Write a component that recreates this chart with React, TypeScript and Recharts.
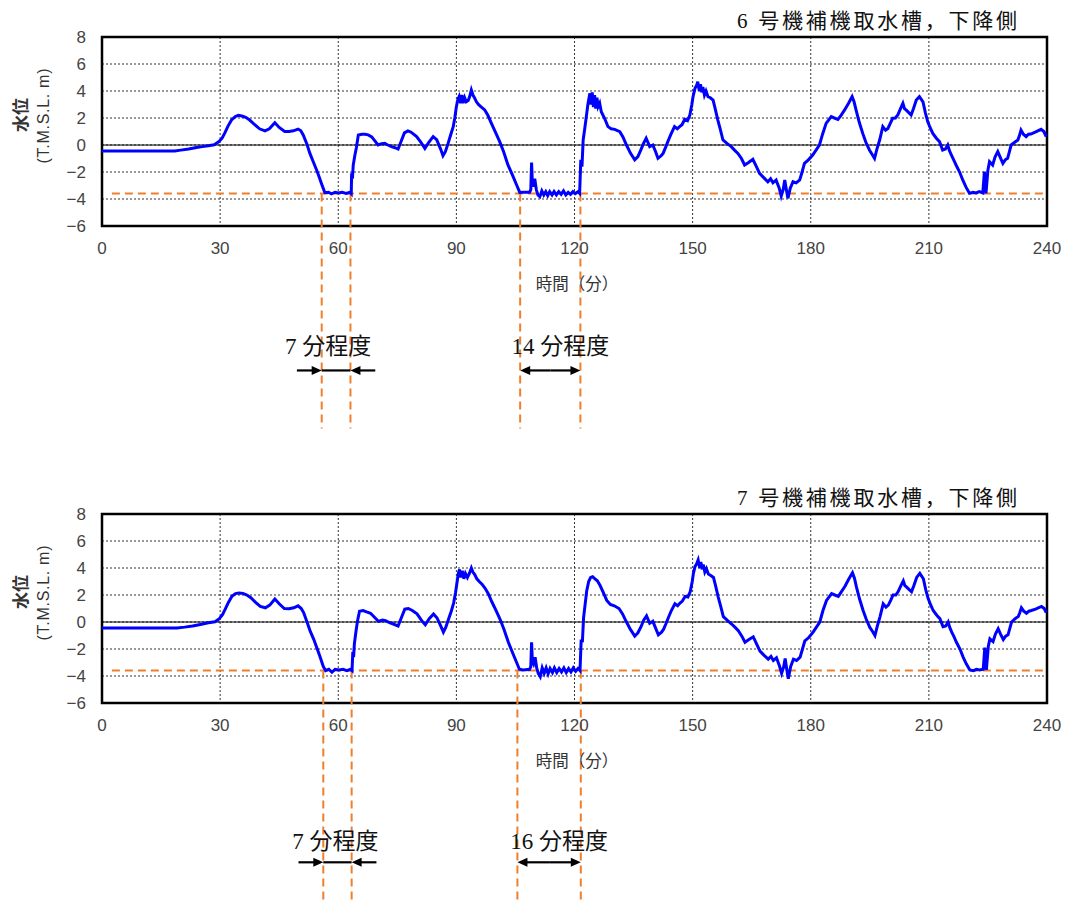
import {
  CartesianGrid,
  Line,
  LineChart,
  ReferenceArea,
  ReferenceDot,
  ReferenceLine,
  XAxis,
  YAxis,
} from "recharts"

// 時間(分) と 水位(T.M.S.L. m)
const timeTicks = [0, 30, 60, 90, 120, 150, 180, 210, 240]
const levelTicks = [-6, -4, -2, 0, 2, 4, 6, 8]

const thresholdLevel = -3.6
const thresholdFrom = 2.5

const unit6Trace: [number, number][] = [
  [0, -0.45], [10, -0.45], [18.5, -0.44], [20, -0.38], [22, -0.3], [24, -0.18], [25.5, -0.12], [27, -0.05],
  [28.5, 0.02], [29.7, 0.25], [30.5, 0.5], [31.2, 0.9], [32, 1.4], [32.9, 1.85], [33.8, 2.1], [34.6, 2.2],
  [35.5, 2.15], [36.5, 2.05], [37.5, 1.85], [38.8, 1.5], [40, 1.2], [41.4, 1.05], [42.5, 1.2], [43.9, 1.65],
  [45, 1.3], [46.4, 1.0], [47.5, 1.0], [48.6, 1.05], [49.8, 1.18], [50.5, 1.05], [51.1, 0.74], [52, 0.1],
  [52.8, -0.62], [53.6, -1.2], [54.5, -1.85], [55.2, -2.4], [55.8, -2.9], [56.6, -3.53], [57.5, -3.5],
  [58.3, -3.62], [59.2, -3.5], [60, -3.55], [61, -3.5], [62, -3.58], [63, -3.5], [63.3, -3.6], [63.4, -2.1],
  [63.6, -2.5], [63.8, -1.5], [64.2, -0.8], [64.6, -0.2], [65.1, 0.74], [66, 0.8], [66.8, 0.79], [67.6, 0.75],
  [68.5, 0.6], [69.3, 0.3], [70.1, 0.0], [71, 0.1], [71.8, 0.12], [72.6, 0.0], [73.5, -0.12], [74.4, -0.2],
  [75.2, -0.3], [76, 0.3], [76.8, 0.9], [77.7, 1.05], [78.5, 0.95], [79.9, 0.62], [81, 0.2], [82, -0.25],
  [83, 0.2], [84.1, 0.62], [85, 0.4], [86, -0.3], [86.6, -0.8], [87.2, -0.5], [87.9, 0.12], [88.5, 0.7],
  [89.2, 1.36], [89.6, 2.0], [90, 2.84], [90.4, 3.4], [90.7, 3.6], [91.1, 3.1], [91.4, 3.7], [91.7, 3.1],
  [92.1, 3.5], [92.5, 3.2], [93, 3.3], [93.4, 3.6], [93.8, 4.07], [94.2, 3.7], [94.6, 3.5], [95.1, 3.2],
  [95.6, 3.0], [96.2, 2.85], [97.2, 2.6], [98, 2.2], [98.9, 1.6], [100, 0.9], [101, 0.25], [102, -0.5],
  [103.1, -1.48], [104.2, -2.2], [105.3, -2.96], [106.1, -3.51], [107, -3.5], [108.6, -3.5], [108.9, -3.3],
  [109.1, -1.3], [109.3, -2.8], [109.5, -3.09], [109.9, -2.5], [110.3, -3.3], [110.7, -3.7], [111.2, -3.83],
  [111.7, -3.4], [112.2, -3.7], [112.7, -3.45], [113.2, -3.75], [113.7, -3.45], [114.3, -3.7], [114.8, -3.45],
  [115.4, -3.7], [116, -3.45], [116.6, -3.65], [117.2, -3.4], [117.8, -3.7], [118.4, -3.5], [119, -3.65],
  [119.6, -3.45], [120.2, -3.6], [120.9, -3.46], [121.3, -3.58], [121.6, -1.1], [121.9, -1.6], [122.2, 0.37],
  [122.6, 1.2], [123, 2.1], [123.4, 3.0], [123.9, 3.83], [124.2, 3.0], [124.5, 3.9], [124.8, 2.8], [125.1, 3.7],
  [125.4, 2.7], [125.7, 3.5], [126, 2.84], [126.4, 3.1], [126.8, 2.47], [127.6, 2.0], [128.5, 1.36], [129.3, 1.2],
  [130.2, 1.16], [131.5, 0.99], [132.3, 0.6], [133.2, 0.0], [134.2, -0.6], [135.3, -1.1], [136.1, -0.86],
  [136.8, -0.4], [137.5, 0.1], [138.2, 0.5], [139.1, -0.12], [139.9, 0.0], [140.6, -0.5], [141.2, -0.99],
  [142, -0.8], [142.5, -0.62], [143.1, -0.2], [143.7, 0.25], [144.5, 0.8], [145.4, 1.36], [146.1, 1.2],
  [146.7, 1.36], [147.3, 1.5], [148, 1.9], [148.7, 1.8], [149.3, 2.22], [149.8, 3.0], [150.1, 3.58], [150.6, 4.2],
  [151, 4.4], [151.3, 4.69], [151.7, 4.0], [152, 4.5], [152.3, 3.9], [152.6, 4.3], [153, 3.7], [153.4, 4.0],
  [153.9, 3.58], [154.5, 3.5], [155.2, 3.33], [155.8, 2.6], [156.4, 1.85], [157, 1.2], [157.7, 0.37], [158.8, 0.1],
  [159.8, -0.12], [160.7, -0.4], [161.5, -0.62], [162.4, -1.0], [163.2, -1.48], [164.2, -1.3], [165.3, -1.06],
  [166.2, -1.6], [167, -2.1], [168, -2.4], [169.1, -2.72], [169.8, -2.5], [170.4, -2.8], [171.2, -2.6],
  [172, -3.2], [172.5, -3.78], [173, -3.3], [173.4, -2.59], [173.8, -3.3], [174.2, -3.95], [174.8, -3.2],
  [175.5, -2.72], [176.3, -2.8], [177.2, -2.59], [177.8, -2.0], [178.4, -1.36], [179.4, -1.1], [180.5, -0.74],
  [181.3, -0.4], [182.2, 0.0], [183, 0.8], [183.9, 1.6], [185.2, 2.1], [186, 2.0], [186.9, 1.9], [187.7, 2.2],
  [188.6, 2.6], [189.6, 3.1], [190.5, 3.58], [191, 3.2], [191.5, 2.6], [192.3, 1.7], [193.2, 0.86], [194, 0.2],
  [194.9, -0.37], [195.6, -0.7], [196.2, -0.99], [196.8, -0.3], [197.5, 0.37], [198.3, 1.36], [199, 1.1],
  [199.6, 1.23], [200.2, 1.6], [200.8, 1.98], [201.5, 2.0], [202.1, 2.22], [202.8, 2.7], [203.4, 3.09],
  [203.8, 2.7], [204.2, 2.6], [204.9, 2.4], [205.5, 2.22], [206.1, 2.7], [206.8, 3.33], [207.6, 3.58],
  [208.5, 3.2], [209.1, 2.4], [209.7, 1.73], [210.3, 1.3], [211, 0.86], [211.9, 0.5], [212.7, 0.25],
  [213.5, -0.37], [214.2, -0.3], [214.8, 0.0], [215.2, -0.4], [215.7, -0.74], [216.3, -1.1], [216.9, -1.48],
  [217.8, -2.0], [218.6, -2.59], [219.4, -3.1], [220.3, -3.58], [221.2, -3.5], [222, -3.55], [222.8, -3.45],
  [223.7, -3.55], [224.1, -1.98], [224.5, -3.58], [225, -1.85], [225.4, -1.23], [226.2, -1.48], [226.8, -0.9],
  [227.5, -0.49], [228.1, -0.9], [228.8, -1.36], [229.4, -1.1], [230, -0.99], [230.9, 0.0], [231.8, 0.2],
  [232.6, 0.37], [233, 0.7], [233.4, 1.11], [234, 0.8], [234.7, 0.62], [235.3, 0.8], [235.9, 0.81], [237, 0.95],
  [238.5, 1.16], [239.2, 1.0], [239.8, 0.62],
]

const unit7Trace: [number, number][] = [
  [0, -0.45], [10, -0.45], [19, -0.44], [21, -0.38], [23, -0.3], [25, -0.18], [27, -0.06], [28.7, 0.02],
  [29.8, 0.25], [30.6, 0.55], [31.3, 0.95], [32.1, 1.45], [33, 1.9], [33.9, 2.1], [34.8, 2.15], [35.8, 2.12],
  [36.8, 2.0], [37.8, 1.8], [39, 1.45], [40.2, 1.15], [41.5, 1.05], [42.6, 1.25], [43.9, 1.7], [45, 1.35],
  [46.3, 1.0], [47.5, 0.98], [48.7, 1.05], [49.8, 1.2], [50.6, 1.0], [51.2, 0.7], [52, 0.05], [52.9, -0.7],
  [53.8, -1.3], [54.6, -1.95], [55.4, -2.6], [56.2, -3.3], [56.8, -3.6], [57.6, -3.5], [58.4, -3.72],
  [59.2, -3.5], [60.2, -3.55], [61.2, -3.5], [62.2, -3.6], [63.1, -3.5], [63.5, -3.6], [63.7, -2.2], [63.9, -2.6],
  [64.1, -1.6], [64.5, -0.7], [64.9, 0.1], [65.4, 0.8], [66.3, 0.85], [67.2, 0.75], [68.2, 0.65], [69.2, 0.35],
  [70.2, 0.05], [71.2, 0.15], [72, 0.1], [73, -0.05], [74, -0.15], [75.2, -0.3], [76, 0.3], [76.9, 0.95],
  [77.8, 1.0], [78.8, 0.85], [80, 0.6], [81.2, 0.1], [82.1, -0.2], [83.1, 0.25], [84.2, 0.6], [85.1, 0.3],
  [86.1, -0.35], [86.7, -0.75], [87.3, -0.4], [88, 0.2], [88.7, 0.8], [89.3, 1.4], [89.8, 2.2], [90.2, 3.0],
  [90.5, 3.6], [90.8, 3.9], [91.1, 3.3], [91.5, 3.8], [91.9, 3.2], [92.3, 3.6], [92.8, 3.3], [93.3, 3.6],
  [93.8, 4.0], [94.2, 3.7], [94.7, 3.5], [95.2, 3.2], [95.8, 3.0], [96.5, 2.8], [97.3, 2.5], [98.1, 2.1],
  [99, 1.5], [100, 0.9], [101.1, 0.2], [102.1, -0.55], [103.2, -1.5], [104.3, -2.3], [105.3, -3.0], [106, -3.5],
  [107, -3.55], [108.6, -3.5], [108.9, -3.3], [109.1, -1.5], [109.3, -2.9], [109.6, -3.1], [110, -2.6],
  [110.4, -3.4], [110.8, -3.8], [111.3, -4.05], [111.8, -3.4], [112.3, -3.8], [112.8, -3.4], [113.3, -3.85],
  [113.8, -3.45], [114.4, -3.75], [114.9, -3.4], [115.5, -3.75], [116.1, -3.45], [116.7, -3.7], [117.3, -3.4],
  [117.9, -3.75], [118.5, -3.45], [119.1, -3.7], [119.7, -3.4], [120.3, -3.65], [120.9, -3.45], [121.4, -3.6],
  [121.7, -1.3], [122, -1.5], [122.3, 0.3], [122.7, 1.3], [123.1, 2.3], [123.6, 3.0], [124.1, 3.3], [124.6, 3.35],
  [125.2, 3.2], [125.8, 3.05], [126.5, 2.7], [127.3, 2.2], [128.2, 1.6], [129.1, 1.3], [130.1, 1.2], [131.3, 1.0],
  [132.2, 0.6], [133.1, 0.05], [134.2, -0.55], [135.3, -1.05], [136.1, -0.8], [136.9, -0.35], [137.6, 0.15],
  [138.3, 0.45], [139.1, -0.1], [139.9, 0.05], [140.6, -0.45], [141.3, -0.95], [142.1, -0.75], [142.6, -0.55],
  [143.2, -0.15], [143.8, 0.3], [144.6, 0.85], [145.5, 1.35], [146.2, 1.2], [146.8, 1.4], [147.4, 1.55],
  [148.1, 1.9], [148.8, 1.85], [149.4, 2.25], [149.9, 3.0], [150.2, 3.6], [150.6, 4.1], [151, 4.3], [151.4, 4.6],
  [151.8, 4.0], [152.1, 4.45], [152.4, 3.9], [152.7, 4.25], [153.1, 3.7], [153.5, 3.95], [154, 3.55],
  [154.6, 3.45], [155.3, 3.3], [155.9, 2.6], [156.5, 1.85], [157.1, 1.2], [157.8, 0.4], [158.9, 0.1],
  [159.9, -0.15], [160.8, -0.4], [161.6, -0.65], [162.5, -1.05], [163.3, -1.5], [164.3, -1.3], [165.4, -1.1],
  [166.3, -1.65], [167.1, -2.15], [168.1, -2.45], [169.2, -2.75], [169.9, -2.55], [170.5, -2.85], [171.3, -2.65],
  [172.1, -3.3], [172.6, -3.8], [173.1, -3.35], [173.5, -2.7], [173.9, -3.5], [174.3, -4.2], [174.9, -3.3],
  [175.6, -2.75], [176.4, -2.85], [177.3, -2.6], [177.9, -2.0], [178.5, -1.4], [179.5, -1.15], [180.6, -0.75],
  [181.4, -0.4], [182.3, 0.0], [183.1, 0.85], [184, 1.6], [185.3, 2.1], [186.1, 2.0], [187, 1.9], [187.8, 2.25],
  [188.7, 2.65], [189.7, 3.2], [190.6, 3.65], [191.1, 3.25], [191.6, 2.6], [192.4, 1.7], [193.3, 0.85],
  [194.1, 0.2], [195, -0.4], [195.7, -0.7], [196.3, -1.0], [196.9, -0.3], [197.6, 0.4], [198.4, 1.35],
  [199.1, 1.1], [199.7, 1.25], [200.3, 1.6], [200.9, 2.0], [201.6, 2.0], [202.2, 2.25], [202.9, 2.7],
  [203.5, 3.05], [203.9, 2.7], [204.3, 2.6], [205, 2.4], [205.6, 2.25], [206.2, 2.7], [206.9, 3.3], [207.7, 3.6],
  [208.6, 3.2], [209.2, 2.4], [209.8, 1.75], [210.4, 1.3], [211.1, 0.85], [212, 0.5], [212.8, 0.25],
  [213.6, -0.35], [214.3, -0.3], [214.9, 0.0], [215.3, -0.4], [215.8, -0.75], [216.4, -1.1], [217, -1.5],
  [217.9, -2.0], [218.7, -2.6], [219.5, -3.1], [220.4, -3.55], [221.3, -3.6], [222.1, -3.5], [222.9, -3.55],
  [223.8, -3.5], [224.2, -1.9], [224.6, -3.55], [225.1, -1.8], [225.5, -1.25], [226.3, -1.45], [226.9, -0.9],
  [227.6, -0.5], [228.2, -0.9], [228.9, -1.3], [229.5, -1.05], [230.1, -0.95], [231, 0.0], [231.9, 0.25],
  [232.7, 0.4], [233.1, 0.7], [233.5, 1.05], [234.1, 0.8], [234.8, 0.65], [235.4, 0.8], [236, 0.85],
  [237.1, 0.95], [238.6, 1.15], [239.3, 1.0], [239.8, 0.7],
]

// 下降側で水位が閾値を下回った区間
const unit6Marks = [55.8, 63.1, 106.2, 121.5]
const unit7Marks = [56.2, 63.4, 105.5, 121.6]

const unit6Spans = [
  { from: 55.8, to: 63.1, label: "7 分程度", inward: true },
  { from: 106.2, to: 121.5, label: "14 分程度", inward: false },
]
const unit7Spans = [
  { from: 56.2, to: 63.4, label: "7 分程度", inward: true },
  { from: 105.5, to: 121.6, label: "16 分程度", inward: false },
]

const ORANGE = "#F07F2C"
const BLUE = "#0000FF"
const serif = '"Liberation Serif", "DejaVu Serif", "Noto Sans CJK JP", serif'
const sans = '"Liberation Sans", Arial, "Noto Sans CJK JP", sans-serif'

const fmtTick = (v: number) => (v < 0 ? "\u2212" + Math.abs(v) : String(v))

function Arrow(p: any) {
  const { x1, y1, x2, y2 } = p
  const dir = Math.sign(x2 - x1) || 1
  const len = 10
  const half = 4.5
  return (
    <g>
      <line x1={x1} y1={y1} x2={x2 - dir * len * 0.6} y2={y2} stroke="#000" strokeWidth={2.2} />
      <polygon
        points={`${x2},${y2} ${x2 - dir * len},${y2 - half} ${x2 - dir * len},${y2 + half}`}
        fill="#000"
      />
    </g>
  )
}

type PanelProps = {
  title: string
  trace: [number, number][]
  marks: number[]
  spans: { from: number; to: number; label: string; inward: boolean }[]
  height: number
  arrowLevel: number
  labelLevel: number
  labelDx: number[]
}

function Panel({ title, trace, marks, spans, height, arrowLevel, labelLevel, labelDx }: PanelProps) {
  const data = trace.map(([time, level]) => ({ time, level }))
  const tail = 6.3

  return (
    <div style={{ position: "relative", width: 1070, height }}>
      <LineChart
        width={1070}
        height={height}
        data={data}
        margin={{ top: 37, right: 23, bottom: height - 226 - 30, left: 0 }}
      >
        <CartesianGrid stroke="#333" strokeDasharray="2 2" strokeWidth={1} />
        <XAxis
          dataKey="time"
          type="number"
          domain={[0, 240]}
          ticks={timeTicks}
          height={30}
          axisLine={false}
          tickLine={false}
          tickMargin={10}
          tick={{ fill: "#444", fontSize: 17, fontFamily: sans }}
        />
        <YAxis
          type="number"
          domain={[-6, 8]}
          ticks={levelTicks}
          width={102}
          axisLine={false}
          tickLine={false}
          tickMargin={10}
          tickFormatter={fmtTick}
          tick={{ fill: "#444", fontSize: 17, fontFamily: sans }}
        />
        <ReferenceLine y={0} stroke="#000" strokeWidth={1.2} />
        <ReferenceLine
          segment={[{ x: thresholdFrom, y: thresholdLevel }, { x: 240, y: thresholdLevel }]}
          stroke={ORANGE}
          strokeWidth={2}
          strokeDasharray="8 5"
          ifOverflow="visible"
        />
        {marks.map((m) => (
          <ReferenceLine
            key={m}
            segment={[{ x: m, y: thresholdLevel }, { x: m, y: -21 }]}
            stroke={ORANGE}
            strokeWidth={2}
            strokeDasharray="8 5"
            ifOverflow="visible"
          />
        ))}
        {spans.map((s, i) =>
          s.inward ? (
            [
              <ReferenceLine key={`a${i}`} segment={[{ x: s.from - tail, y: arrowLevel }, { x: s.from, y: arrowLevel }]} shape={Arrow} ifOverflow="visible" />,
              <ReferenceLine key={`b${i}`} segment={[{ x: s.to + tail, y: arrowLevel }, { x: s.to, y: arrowLevel }]} shape={Arrow} ifOverflow="visible" />,
              <ReferenceLine key={`c${i}`} segment={[{ x: s.from, y: arrowLevel }, { x: s.to, y: arrowLevel }]} stroke="#000" strokeWidth={2.2} ifOverflow="visible" />,
            ]
          ) : (
            [
              <ReferenceLine key={`a${i}`} segment={[{ x: (s.from + s.to) / 2, y: arrowLevel }, { x: s.from, y: arrowLevel }]} shape={Arrow} ifOverflow="visible" />,
              <ReferenceLine key={`b${i}`} segment={[{ x: (s.from + s.to) / 2, y: arrowLevel }, { x: s.to, y: arrowLevel }]} shape={Arrow} ifOverflow="visible" />,
            ]
          )
        )}
        {spans.map((s, i) => (
          <ReferenceDot
            key={`l${i}`}
            x={(s.from + s.to) / 2}
            y={labelLevel}
            ifOverflow="visible"
            shape={(p: any) => (
              <text
                x={p.cx + labelDx[i]}
                y={p.cy + 8}
                textAnchor="middle"
                fontSize={23}
                fontFamily={serif}
                fill="#111"
              >
                {s.label}
              </text>
            )}
          />
        ))}
        <Line
          dataKey="level"
          type="linear"
          stroke={BLUE}
          strokeWidth={3}
          dot={false}
          isAnimationActive={false}
        />
        <ReferenceArea x1={0} x2={240} y1={-6} y2={8} fill="none" stroke="#000" strokeWidth={2.5} ifOverflow="visible" />
      </LineChart>
      <svg
        width={1070}
        height={300}
        style={{ position: "absolute", left: 0, top: 0, pointerEvents: "none" }}
      >
        <text x={1017} y={28} textAnchor="end" fontSize={21} fontFamily={serif} fill="#111" textLength={280} lengthAdjust="spacing">
          {title}
        </text>
        <text transform="translate(27,115) rotate(-90)" textAnchor="middle" fontSize={17} fontWeight="bold" fontFamily={sans} fill="#333">
          水位
        </text>
        <text transform="translate(49,116) rotate(-90)" textAnchor="middle" fontSize={16} fontFamily={sans} fill="#333" textLength={95} lengthAdjust="spacing">
          (T.M.S.L. m)
        </text>
        <text x={577} y={290} textAnchor="middle" fontSize={16.5} fontFamily={sans} fill="#333">
          時間（分）
        </text>
      </svg>
    </div>
  )
}

export default function App() {
  return (
    <div style={{ position: "absolute", left: 0, top: 0, width: 1070, height: 902, overflow: "hidden", background: "#fff" }}>
      <Panel
        title="6 号機補機取水槽，下降側"
        trace={unit6Trace}
        marks={unit6Marks}
        spans={unit6Spans}
        height={477}
        arrowLevel={-16.7}
        labelLevel={-14.9}
        labelDx={[-8, 10]}
      />
      <Panel
        title="7 号機補機取水槽，下降側"
        trace={unit7Trace}
        marks={unit7Marks}
        spans={unit7Spans}
        height={425}
        arrowLevel={-17.8}
        labelLevel={-16.2}
        labelDx={[-2, 10]}
      />
    </div>
  )
}
